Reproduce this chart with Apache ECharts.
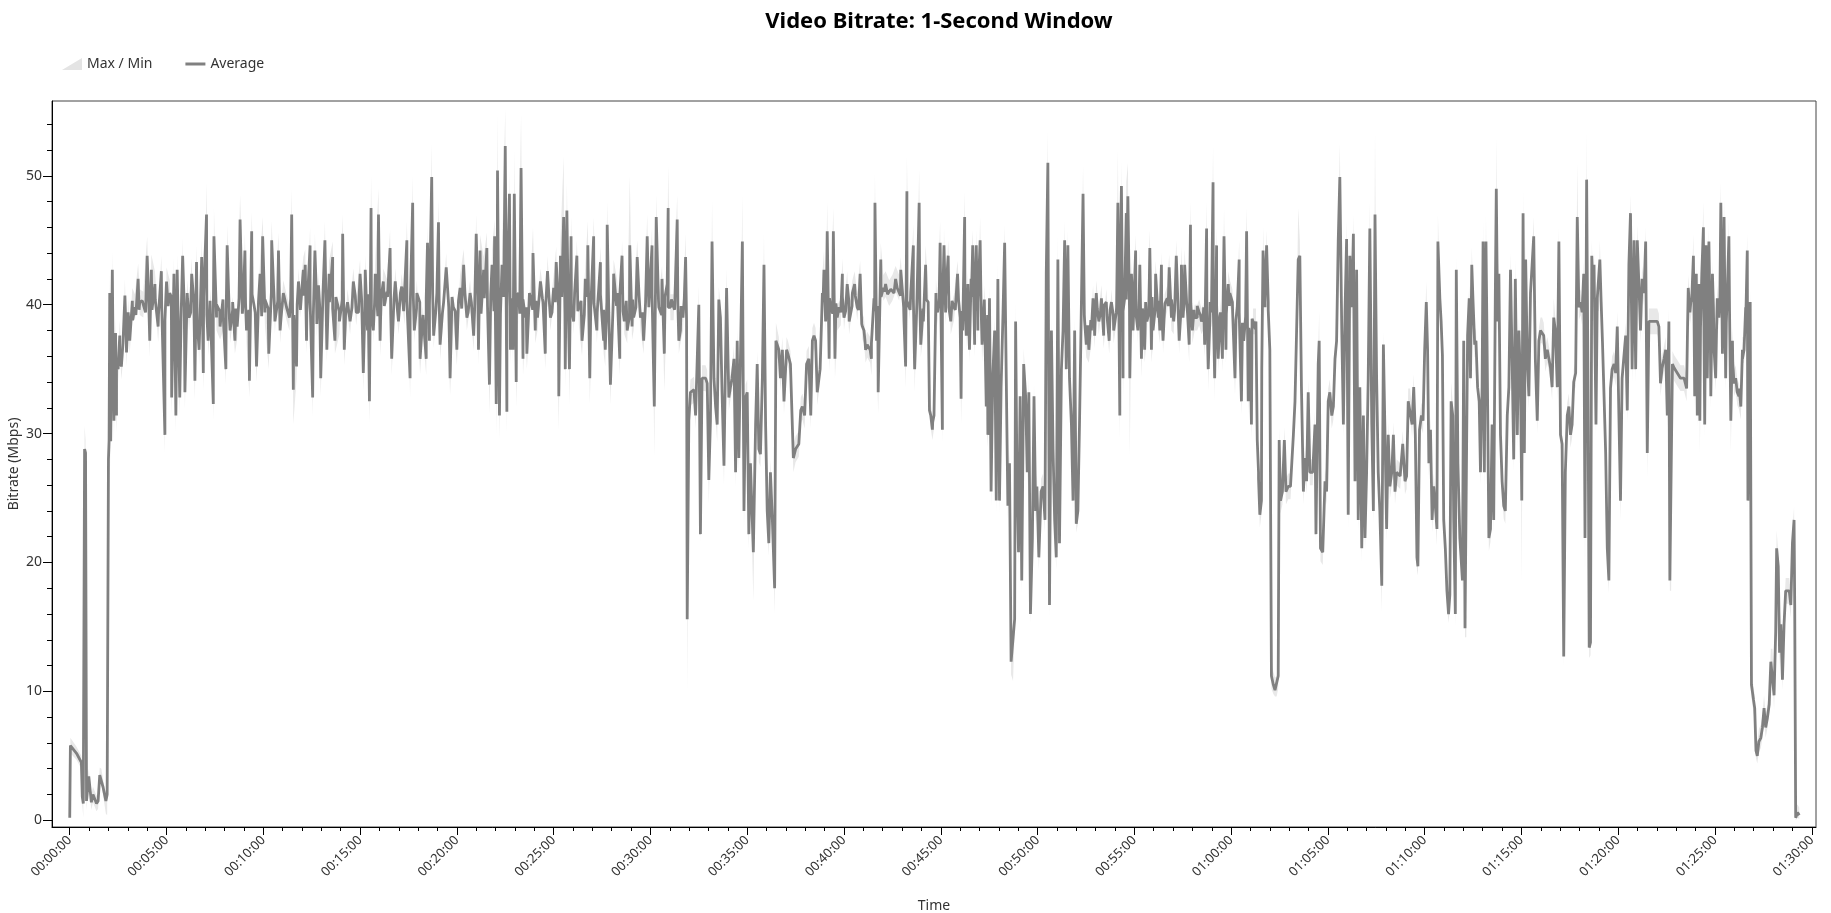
<!DOCTYPE html>
<html><head><meta charset="utf-8">
<script src="https://cdn.jsdelivr.net/npm/echarts@6/dist/echarts.min.js"></script>
<style>html,body{margin:0;padding:0;background:#fff}#c{width:1831px;height:913px}</style>
</head><body><div id="c"></div>
<script>
// time in seconds since start
const tSec = [
0,2,21,36,39,42,46,49,52,59,
67,72,83,88,93,98,103,112,116,120,
122,124,127,132,137,142,145,150,155,160,
166,171,176,181,186,194,202,212,217,228,
240,248,253,264,274,284,295,300,310,316,
323,329,333,341,350,357,364,370,378,388,
393,401,409,414,424,429,437,445,447,455,
466,476,484,488,497,505,512,519,528,538,
543,548,557,564,571,579,590,598,605,617,
626,636,647,652,662,672,681,688,693,703,
709,714,724,730,734,745,753,760,766,771,
778,791,797,804,815,822,836,846,851,861,
869,879,888,900,910,916,923,929,934,941,
947,957,962,972,983,993,998,1009,1019,1029,
1038,1045,1055,1063,1068,1076,1086,1094,1105,1109,
1115,1122,1128,1138,1143,1148,1159,1167,1179,1189,
1200,1210,1221,1231,1241,1252,1260,1267,1272,1283,
1293,1301,1309,1317,1322,1326,1332,1340,1350,1355,
1363,1366,1371,1374,1378,1384,1391,1399,1405,1412,
1417,1428,1436,1443,1450,1459,1467,1474,1481,1490,
1500,1508,1516,1521,1531,1536,1541,1549,1554,1562,
1572,1578,1588,1598,1606,1612,1619,1624,1634,1645,
1655,1660,1666,1671,1676,1686,1697,1705,1712,1719,
1728,1736,1743,1748,1759,1769,1779,1790,1795,1805,
1812,1818,1826,1836,1843,1852,1855,1862,1872,1883,
1888,1893,1901,1909,1912,1914,1919,1924,1935,1940,
1950,1955,1960,1971,1976,1981,1986,1991,1997,2002,
2007,2012,2017,2022,2028,2036,2043,2048,2053,2059,
2064,2069,2074,2079,2085,2090,2095,2100,2105,2110,
2119,2126,2131,2136,2141,2147,2152,2157,2162,2167,
2172,2178,2185,2189,2198,2203,2209,2214,2222,2226,
2234,2243,2250,2260,2266,2271,2278,2284,2291,2297,
2302,2307,2312,2317,2326,2333,2338,2343,2348,2354,
2359,2367,2372,2379,2390,2395,2400,2410,2416,2426,
2433,2441,2450,2457,2462,2467,2472,2481,2485,2493,
2496,2501,2506,2514,2522,2529,2540,2550,2560,2571,
2576,2586,2591,2595,2602,2607,2615,2619,2626,2633,
2638,2646,2653,2661,2669,2674,2679,2685,2690,2698,
2705,2710,2715,2723,2731,2741,2752,2760,2763,2768,
2774,2779,2784,2789,2794,2799,2805,2810,2815,2822,
2828,2836,2841,2846,2851,2856,2861,2867,2872,2877,
2882,2887,2893,2898,2903,2908,2913,2918,2924,2929,
2932,2936,2941,2946,2951,2957,2963,2968,2973,2978,
2984,2989,2994,2998,3004,3011,3017,3023,3027,3032,
3037,3043,3048,3053,3058,3063,3068,3074,3079,3084,
3089,3094,3099,3105,3110,3115,3120,3125,3130,3134,
3141,3146,3151,3159,3167,3172,3177,3182,3190,3198,
3205,3213,3222,3229,3236,3244,3249,3255,3260,3265,
3270,3275,3280,3286,3291,3296,3304,3311,3317,3322,
3327,3332,3339,3348,3353,3358,3366,3374,3379,3384,
3389,3394,3402,3408,3415,3422,3430,3439,3446,3451,
3456,3462,3470,3474,3480,3487,3495,3501,3508,3513,
3518,3524,3529,3534,3539,3544,3549,3555,3560,3567,
3573,3578,3584,3591,3596,3604,3612,3619,3625,3632,
3639,3648,3653,3658,3663,3668,3677,3681,3685,3689,
3694,3699,3705,3710,3715,3720,3725,3731,3736,3741,
3746,3749,3753,3759,3765,3770,3777,3784,3793,3798,
3803,3808,3813,3818,3824,3829,3834,3839,3844,3853,
3860,3863,3870,3873,3877,3884,3891,3896,3901,3906,
3912,3917,3922,3927,3932,3937,3943,3948,3953,3958,
3963,3968,3974,3979,3984,3989,3994,3999,4005,4010,
4015,4020,4025,4030,4036,4041,4046,4051,4056,4061,
4067,4072,4077,4082,4087,4092,4098,4103,4108,4113,
4124,4132,4139,4144,4149,4155,4161,4166,4171,4176,
4179,4184,4190,4195,4200,4205,4209,4213,4218,4223,
4228,4233,4238,4241,4247,4251,4255,4259,4264,4269,
4274,4278,4282,4287,4290,4295,4298,4303,4309,4313,
4317,4321,4325,4329,4333,4338,4342,4346,4350,4355,
4359,4364,4369,4373,4378,4381,4385,4390,4393,4399,
4404,4409,4414,4419,4422,4426,4430,4435,4440,4445,
4450,4456,4461,4466,4471,4476,4481,4487,4492,4497,
4501,4505,4509,4513,4518,4523,4528,4533,4538,4543,
4549,4554,4559,4564,4569,4574,4580,4585,4590,4595,
4600,4605,4611,4616,4621,4626,4631,4636,4642,4647,
4652,4657,4662,4668,4673,4678,4683,4688,4693,4697,
4702,4706,4710,4714,4718,4722,4725,4731,4735,4740,
4743,4747,4751,4756,4761,4766,4771,4776,4781,4787,
4792,4797,4802,4807,4812,4818,4823,4828,4833,4838,
4843,4849,4854,4859,4864,4869,4874,4880,4885,4890,
4895,4900,4911,4921,4926,4931,4936,4942,4947,4952,
4957,4960,4964,4968,4973,4983,4993,5004,5012,5017,
5022,5028,5033,5037,5042,5045,5050,5053,5059,5064,
5068,5072,5076,5081,5087,5092,5097,5102,5107,5112,
5118,5123,5128,5133,5138,5143,5149,5154,5159,5164,
5169,5174,5180,5185,5190,5195,5200,5202,5209,5213,
5219,5223,5227,5231,5236,5242,5247,5252,5257,5262,
5268,5273,5278,5283,5288,5291,5296,5300,5304,5309,
5314,5319,5324,5330,5335,5340,5345,5347,5350,5356,5361
];
// average bitrate (Mbps) at tSec
const avgMbps = [
0.2,5.8,5.2,4.5,1.8,1.3,28.8,28.5,1.5,3.4,
1.4,2.0,1.3,1.5,3.5,3.4,2.6,1.5,2.0,28.0,
29.5,40.9,29.4,42.7,31,37.8,31.4,35,37.6,35.2,
36.9,40.7,36.3,39.4,37.2,40.3,39.8,42,40.2,40,
43.8,37.2,42.7,41.6,38.3,42.6,29.9,41.8,40.9,32.8,
42.4,31.4,42.7,32.8,43.8,33.2,40.9,39,42.4,34.1,
43.3,36.5,43.7,34.7,47,37.2,40.2,32.3,45.3,39,
38.3,39,35,44.6,38,39.6,37.2,38.3,46.6,40.2,
44.2,38,34.1,45.7,40,35.2,42.4,45.3,39.4,36.2,
45,38.7,44.2,38,40.9,39.8,39,47,33.4,35.2,
41.8,40,42.7,43.1,37.2,44.6,32.8,44.2,38.5,41.5,
34.3,45,36.5,42.4,43.7,37.2,38.7,45.5,36.5,40.2,
38.7,41.8,39.4,42.4,34.7,42.7,38,32.5,47.5,38,
42.4,47,37.2,41.8,41,44.4,35.8,41.8,38.7,41.4,
39.4,45,34.3,47.9,38,40.9,35.8,38.9,35.8,44.8,
37.2,49.9,37.6,40.9,46.4,36.9,40.2,42.9,34.3,39.8,
36.5,41.3,43.1,39,40.9,37.6,45.5,36.5,44.2,42.7,
44.4,33.8,43.1,45.3,32.3,50.4,31.4,43.1,52.3,31.7,
48.6,36.5,40.5,36.5,48.6,34,40.9,50.6,35.8,39,
36.2,40.9,44,38,39,41.8,40.2,36.2,42.6,39,
41.3,43.3,32.9,43.8,46.8,35,47.3,35,45.3,38.7,
43.8,39.4,37.2,42,44.6,34.3,39.8,45.3,38,43.3,
37.2,36.5,46.2,39.4,33.8,42.4,40.9,35.8,43.8,38.7,
38,44.6,38.3,39,43.7,39,37.2,45.3,39.8,44.6,
32.1,46.8,39.8,42,36.2,41.6,47.5,39.8,39.8,46.6,
37.2,38,39,43.7,38.7,15.6,31,33.2,33.4,31.4,
40,22.2,34.3,34.3,33.9,26.4,31,44.9,34.3,32.1,
30.7,40.4,39,33.2,27.5,41.3,32.8,33.6,34.3,35.8,
27,37.2,28.1,35.8,44.9,24,32.8,33.2,22.2,27.7,
20.8,30.7,35.4,28.8,28.4,34.3,43.1,30.7,24,21.5,
27,23.3,18,37.2,36.5,34.3,36.5,32.5,36.5,36.2,
35.4,28.1,28.8,29.2,31.8,32.1,31.4,35.4,35.8,31.4,
37.2,37.6,37.2,33.2,35,40.9,42.7,38.7,45.7,35.8,
39.8,45.7,35.8,39,39.4,42.4,39,41.6,38.7,40.9,
41.6,39.8,42.4,38.3,38,36.5,36.9,36.5,35.8,40.5,
47.9,37.2,33.2,43.5,41.3,41.6,40.9,41.3,42,41.3,
42.7,38.7,35.2,48.8,39.8,40.9,44.6,35,40.2,47.9,
36.9,38.7,43.1,40.2,31.4,30.3,31.4,40.9,39.4,44.8,
30.3,44.6,39.4,43.8,38.7,39.8,42.4,39,32.7,38,
46.8,37.6,41.6,36.5,42,44.6,36.9,44.6,38,45,
36.9,40.5,32.1,29.9,40.5,25.5,34.3,38,24.8,42,
24.8,33.6,39.4,44.8,34.3,24.4,27.7,12.3,12.3,15.6,
38.7,27,20.8,32.9,18.6,35.4,32.9,27,33.2,16,
21.9,32.9,24,25.9,20.4,25.5,25.9,23.3,42.4,51,
16.7,38,28.8,23.3,20.4,43.5,21.5,35,38,45,
35,44.6,34.3,30.7,24.8,38,23,24,30.7,36.9,
48.6,38.7,36.9,36.5,38,40.5,37.6,40.9,38.7,40.5,
37.6,40.2,37.2,40.2,38,39.4,47.9,31.4,49.2,34.3,
40.5,47.1,48.4,34.3,42.4,38,44.2,38,43.1,35.8,
39.4,36.5,38.7,44.4,36.5,38,42.4,39,38,43.1,
37.2,39.8,40.5,42.9,39,38.7,43.8,37.2,43.1,39,
43.1,40.2,36.9,46.2,38,39,39,39.4,38.7,39,
36.9,45.9,35,38.7,39.4,49.5,34.3,44.6,35.8,39.4,
35.8,45.3,36.5,41.6,40.9,40.2,34.3,39.8,43.5,32.5,
37.2,45.7,32.5,37.6,30.7,38.7,38.7,29.5,27,23.7,
24.8,44.2,39.8,44.6,40.2,36.5,11.2,10.5,10.1,10.1,
11.2,29.5,24.8,25.5,29.5,25.5,25.9,25.9,29.9,32.5,
38,43.5,43.8,33.6,25.5,28.1,26.3,33.2,27,27,
30.7,22.2,35.4,37.2,21.1,20.8,26.3,25.5,32.5,33.2,
31.4,32.1,35.8,37.2,44.9,49.9,38,30.7,39.4,45.1,
23.7,43.8,39.8,45.5,26.3,42.7,23.3,33.6,21.1,31.4,
21.9,27,34.3,45.9,30.7,24,47,34.3,27,24,
18.2,36.9,29.9,22.6,29.9,25.9,27,29.9,25.5,27,
26.7,29.2,26.3,26.7,32.5,32.5,30.7,33.6,29.9,20.4,
19.7,30.3,31.4,31,36.5,40.2,36.5,27.7,30.3,23.3,
25.9,24.4,22.6,44.9,40.5,38.7,36.1,23.3,21.1,17.8,
16,17.5,32.5,31.4,23.3,16,42.7,27.7,21.9,21.9,
18.6,37.2,14.9,14.9,37.6,40.5,34.3,43.1,40.2,36.9,
37.2,33.6,32.5,27,33.6,44.9,27,44.9,38,21.9,
22.6,30.7,23.3,40.9,49,38.7,42.4,29.9,26.3,24.4,
24,31.4,33.6,42.7,35.8,28,42,29.9,38,34,
24.8,47.1,28.5,43.5,35.8,32.9,40.9,43.1,45.3,35.8,
31,37.2,38,38,37.6,35.8,36.5,35.8,35.1,33.6,
39,38,33.6,44.9,29.9,29.2,12.7,27,31.4,32.1,
29.9,30.7,34,34.7,46.8,39.8,40.2,39.4,42.4,21.9,
49.7,35,13.4,13.8,43.8,40.9,43.1,30.7,40.5,40.5,
43.5,40.2,37.2,32.9,28.5,21.1,18.6,33.5,35,35.4,
34.7,38.3,31.4,24.8,34.3,36.1,37.6,31.8,43.1,47.1,
35,45,35,45,41.6,38,42,40.9,44.9,28.5,
38.7,38.7,38.7,38.7,38.3,33.9,35.1,35.8,36.5,31.4,
38.7,18.6,18.6,35.4,35.1,34.7,34.3,34.3,33.5,41.3,
39.4,40.5,43.8,32.9,42.4,31.4,41.6,31,42.4,46,
30.7,44.6,34.3,44.9,32.9,42.4,36.5,34.3,40.5,39,
47.9,36.2,46.8,34.3,40.9,45.3,31,37.2,33.9,34.3,
33.2,32.9,32.1,36.5,36.5,39.8,44.2,24.8,40.2,10.5,
9.4,8.7,5.4,5,6.1,6.4,7.2,8.7,7.2,7.9,
9,12.3,12.3,9.7,14.6,21.1,19.7,13,15.2,10.9,
15.2,17.8,17.8,17.8,16.7,21.5,23.3,16.7,0.2,0.6,0.4
];
// window maximum (Mbps) at tSec
const maxMbps = [
0.6,6.4,5.7,5.0,2.5,2.0,30.6,29.5,2.2,4.0,
2.0,2.6,1.9,2.1,4.1,4.0,3.2,2.1,2.6,29,
30.5,42.5,30.5,44.2,32,39,32.5,36,38.8,36.2,
37.9,42,37.3,40.4,38.2,41.3,40.8,43.2,41.2,41,
45.3,38.2,43.9,42.6,39.3,43.8,31,42.9,41.9,33.8,
43.6,32.4,43.9,33.8,45.2,34.2,41.9,40,43.6,35.1,
44.6,37.5,45,35.7,49.5,38.2,41.2,33.3,47.5,40,
39.3,40,36,46.2,39,40.6,38.2,39.3,48.5,41.2,
45.5,39,35.1,47.2,41,36.2,43.5,46.8,40.4,37.2,
46.5,39.7,45.6,39,41.9,40.8,40,49,34.4,36.2,
42.8,41,43.7,44.3,38.2,46,33.8,45.6,39.5,42.5,
35.3,46.5,37.5,43.4,44.9,38.2,39.7,47,37.5,41.2,
39.7,42.8,40.4,43.5,35.7,43.8,39,33.5,50,39,
43.4,49,38.2,42.8,42,45.8,36.8,42.8,39.7,42.4,
40.4,46.5,35.3,50,39,41.9,36.8,39.9,36.8,46.2,
38.2,52.5,38.6,41.9,48.2,37.9,41.2,44,35.3,40.8,
37.5,42.3,44.3,40,41.9,38.6,47,37.5,45.4,43.7,
45.6,34.8,44.3,46.6,33.3,54.8,32.4,44.1,55.2,32.7,
50.5,37.5,41.5,37.5,52,35,41.9,54.8,36.8,40,
37.2,41.9,46,39,40,42.8,41.2,37.2,43.8,40,
42.3,44.5,33.9,45,51.5,36,49.5,36,46.8,39.7,
45,40.4,38.2,43,46.5,35.3,40.8,46.8,39,44.5,
38.2,37.5,48,40.4,34.8,43.5,41.9,36.8,45,39.7,
39,50,39.3,40,45,40,38.2,47,40.8,46,
33.1,48.5,40.8,43,37.2,42.6,50.8,40.8,40.8,48.5,
38.2,39,40,45.5,39.7,16.6,32,34.2,34.4,32.4,
41.5,23.2,35.3,35.3,34.9,27.4,32,48.1,35.3,33.1,
31.7,41.4,40,34.2,28.5,42.8,33.8,34.6,35.3,36.8,
28,38.2,29.1,36.8,48.5,25,33.8,34.2,23.2,28.7,
21.8,31.7,36.4,29.8,29.4,35.3,45.5,31.7,25,22.5,
28,24.3,19,38.6,37.5,35.3,37.5,33.5,37.5,37.2,
36.4,29.1,29.8,30.2,32.8,33.1,32.4,36.4,36.8,32.4,
38.2,38.6,38.2,34.2,36,42.4,44.2,39.7,48,36.8,
40.8,47.5,36.8,40,40.4,43.6,40,42.6,39.7,41.9,
42.6,40.8,43.4,39.3,39,37.5,37.9,37.5,36.8,41.5,
50.2,38.2,34.2,44.8,42.3,42.6,41.9,42.3,43,42.3,
43.7,39.7,36.2,51.5,40.8,41.9,46.2,36,41.2,50.5,
37.9,39.7,44.6,41.2,32.4,31.3,32.4,42,40.4,46.5,
31.3,46,40.4,45,39.7,40.8,43.4,40,33.7,39,
48.8,38.6,42.6,37.5,43,45.8,37.9,45.8,39,46.8,
37.9,41.5,33.1,30.9,41.5,26.5,35.3,39,25.8,43.2,
25.8,34.6,40.4,46.2,35.3,25.4,28.7,13.3,13.3,16.6,
40.2,28,21.8,33.9,19.6,36.6,33.9,28,34.4,17,
22.9,33.9,25,26.9,21.4,26.5,26.9,24.3,43.4,53.5,
17.7,39,29.8,24.3,21.4,45.5,22.5,36,39,46.5,
36,45.8,35.3,31.7,25.8,39,24,25,31.7,37.9,
50.8,39.7,37.9,37.5,39,41.5,38.6,41.9,39.7,41.5,
38.6,41.2,38.2,41.2,39,40.4,52,32.4,51.2,35.3,
41.5,49.5,51,35.3,43.4,39,45.4,39,44.3,36.8,
40.4,37.5,39.7,45.8,37.5,39,43.4,40,39,44.1,
38.2,40.8,41.5,43.9,40,39.7,45,38.2,44.5,40,
44.3,41.2,37.9,48,39,40,40,40.4,39.7,40,
37.9,48,36,39.7,40.4,52.3,35.3,46,36.8,40.4,
36.8,47.5,37.5,42.6,41.9,41.2,35.3,40.8,45,33.5,
38.2,47.5,33.5,38.6,31.7,39.7,39.7,30.5,28,24.7,
25.8,46,40.8,45.8,41.2,37.5,12.2,11.5,11.1,11.1,
12.2,30.5,25.8,26.5,30.5,26.5,26.9,26.9,30.9,33.5,
39,47.5,45,34.6,26.5,29.1,27.3,34.2,28,28,
31.7,23.2,36.4,39.5,22.1,21.8,27.3,26.5,33.5,34.2,
32.4,33.1,36.8,38.2,46,52.5,39,31.7,40.4,46.5,
24.7,45,40.8,47,27.3,43.7,24.3,34.6,22.1,32.4,
22.9,28,35.3,48,31.7,25,53.5,35.3,28,25,
19.2,37.9,30.9,23.6,30.9,26.9,28,30.9,26.5,28,
27.7,30.2,27.3,27.7,33.5,33.5,31.7,34.6,30.9,21.4,
20.7,31.3,32.4,32,37.5,41.8,37.5,28.7,31.3,24.3,
26.9,25.4,23.6,47,41.5,39.7,37.1,24.3,22.1,18.8,
17,18.5,34,32.4,24.3,17,43.9,28.7,22.9,22.9,
19.6,38.2,15.9,15.9,38.6,41.5,35.3,44.5,41.2,37.9,
38.2,34.6,33.5,28,34.6,46.6,28,47,39,22.9,
23.6,31.7,24.3,42,53,39.7,43.4,30.9,27.3,25.4,
25,32.4,34.6,44,36.8,29,43.5,30.9,39,35,
25.8,49,29.5,45,36.8,33.9,41.9,44.1,46.8,36.8,
32,38.2,39,39,38.6,36.8,37.5,36.8,36.1,34.6,
40.5,39,34.6,46,30.9,30.2,13.7,28,32.4,33.1,
30.9,31.7,35,35.7,51,40.8,41.2,40.4,43.4,22.9,
53.5,36,14.4,14.8,45,41.9,44.1,31.7,41.5,41.5,
45,41.2,38.2,33.9,29.5,22.1,19.6,34.5,36,36.4,
35.7,39.5,32.4,25.8,35.3,37.1,38.6,32.8,44.1,48.5,
36,46,36,46.2,42.6,39,43,41.9,46,29.5,
39.7,39.7,39.7,39.7,39.3,34.9,36.1,36.8,37.5,32.4,
39.7,19.6,19.6,36.4,36.1,35.7,35.3,35.3,34.5,42.3,
40.4,41.5,45.5,33.9,43.4,32.4,42.6,32,43.4,48,
31.7,45.6,35.3,46,33.9,43.4,37.5,35.3,41.5,40,
49.5,37.2,48.2,35.3,41.9,46.5,32,38.2,34.9,35.3,
34.2,33.9,33.1,37.5,37.5,40.8,45.5,25.8,41.2,11.5,
10.4,9.7,6.4,6,7.1,7.4,8.2,9.7,8.2,8.9,
10,13.3,13.3,10.7,15.6,22.5,20.7,14,16.2,11.9,
16.2,18.8,18.8,18.8,17.7,22.5,24.3,17.7,1.2,1.2,1.0
];
// window minimum (Mbps) at tSec
const minMbps = [
0,5.2,4.7,4.0,1.2,0.2,27.5,27,0.8,2.8,
0.8,1.4,0.7,0.9,2.9,2.8,2.0,0.5,0.4,26,
28,39.5,27.3,41.5,29.5,36.8,30,34,36.6,34.2,
35.9,39.7,35.2,38.4,36.2,39.3,38.8,41,39.2,39,
42.8,35.9,41.7,40.6,37.1,41.6,28.5,40.8,39.9,31.5,
41.4,30,41.7,31.5,42.8,31.9,39.9,38,41.4,32.6,
42.3,35.3,42.7,33.3,46,36,39.2,31,44.3,38,
37.3,38,33.8,43.6,37,38.6,36.2,37.3,45.6,39.2,
43.2,37,32.8,44.7,39,34,41.4,44.3,38.4,35,
44,37.7,43.2,37,39.9,38.8,38,46,30.7,34.2,
40.8,39,41.7,42.1,36.2,43.6,31.3,43.2,37.5,40.5,
32.9,44,35.5,41.4,42.7,36.2,37.7,44.5,35.3,39.2,
37.7,40.8,38.4,41.4,33.3,41.7,37,30.8,46.5,37,
41.4,46,36,40.8,40,43.4,34.5,40.8,37.7,40.4,
38.4,44,32.8,46.9,37,39.9,34.6,37.9,34.5,43.8,
36.2,48.9,36.6,39.9,45.4,35.7,39.2,41.9,33,38.8,
35.3,40.3,42.1,38,39.9,36.4,44.5,35.3,43.2,41.7,
43.4,31.5,42.1,44.3,29.8,49.4,29.5,42.1,51.3,30,
47.6,35.3,39.5,35.3,47.6,32,39.9,49.6,34.5,38,
35,39.9,43,37,38,40.8,39.2,35,41.6,38,
40.3,42.3,30.2,42.8,45.8,33.5,46.3,32.2,44.3,37.7,
42.8,38.4,36,41,43.6,32.3,38.8,44.3,37,42.3,
36.2,35.2,45.2,38.4,32.2,41.4,39.9,34.5,42.8,37.7,
37,43.6,37.3,38,42.7,38,36.2,44.3,38.8,43.6,
28.2,45.8,38.8,41,33.3,40.6,46.5,38.8,38.8,45.6,
36.2,37,38,42.7,37.7,9.8,30,32.2,32.4,30.4,
39,21.5,33.3,33.3,32.9,24.5,30,43.9,33.3,31.1,
29.3,39.4,38,32.2,26,40.3,31.8,32.6,33.3,34.8,
25.8,36.2,27,34.8,43.9,22.5,31.8,32.2,21,26.7,
17,29.7,34.4,27.8,27.4,33.3,42.1,29.7,23,20.5,
26,22.3,16,36.2,35.5,33.3,35.5,31.5,35.5,35.2,
34.4,27,27.8,28.2,30.8,31.1,30.4,34.4,34.8,30.4,
36.2,36.6,36.2,32.2,34,39.9,41.7,37.7,44.7,34.8,
38.8,44.7,34.3,38,38.4,41.4,38,40.6,37.7,39.9,
40.6,38.8,41.4,37.3,37,35.5,35.9,35.5,34.5,39.5,
46.9,36.2,31.5,42.5,40.3,40.6,39.9,40.3,41,40.3,
41.7,37.7,33.5,47.8,38.8,39.9,43.6,33.2,39.2,46.9,
35.9,37.7,42.1,39.2,30.4,29.5,30.4,39.9,38.4,43.8,
29.3,43.6,38.4,42.8,37.7,38.8,41.4,38,30.7,37,
45.8,36.6,40.6,35.5,41,43.6,35.9,43.6,37,44,
35.5,39.5,31.1,28.9,39.5,24.3,33.3,37,23.8,41,
23.8,32.6,38.4,43.8,33.3,23.4,26.7,11.3,10.8,14.6,
37.7,26,19.8,31.9,17.6,34.4,31.9,26,32.2,15.3,
20.9,31.9,23,24.9,19.4,24.5,24.9,22.3,41.4,50,
15.7,37,27.8,22.3,19.4,42.5,20.5,34,37,44,
34,43.6,33.3,29.7,23.8,37,22.3,23,29.7,35.9,
47.6,37.7,35.9,35.5,37,39.5,36.6,39.9,37.7,39.5,
36.6,39.2,36.2,39.2,37,38.4,46.9,29.5,48.2,32.8,
39.5,46.1,47.4,28.2,41.4,37,43.2,37,42.1,34.3,
38.4,35.5,37.7,43.4,35.5,37,41.4,38,37,42.1,
36.2,38.8,39.5,41.9,38,37.7,42.8,36.2,42.1,38,
42.1,39.2,35.5,45.2,37,38,38,38.4,37.7,38,
35.9,44.9,33.3,37.7,38.4,48.5,32.5,43.6,34.8,38.4,
34.8,44.3,35.5,40.6,39.9,39.2,33,38.8,42.5,31.5,
36.2,44.7,31.5,36.6,29.5,37.7,37.7,28.5,26,22.7,
23.8,43.2,38.8,43.6,39.2,35.5,10.2,9.8,9.6,9.6,
10.2,28.5,23.8,24.5,28.5,24.5,24.9,24.9,28.9,31.5,
37,42.5,42.8,32.6,24.5,27.1,25.3,32.2,26,26,
29.7,21.2,34.4,36.2,20.1,19.8,25.3,24.5,31.5,32.2,
30.4,31.1,34.8,36.2,43.9,48.9,37,29.7,38.4,44.1,
22.5,42.8,38.8,44.5,25.3,41.7,22.3,32.6,20,30.4,
20.9,26,33.3,44.9,29.7,23,46,33.3,26,23,
16.1,35.9,28.9,21.6,28.9,24.9,26,28.9,24.5,26,
25.7,28.2,25.3,25.7,31.5,31.5,29.7,32.6,28.9,19.4,
19,29.3,30.4,30,35.5,39.2,35.5,26.7,29.3,22.3,
24.9,23.4,21.3,43.9,39.5,37.7,35.1,22.3,20.1,16.8,
15.3,16.5,31.5,30.4,22.3,15,41.7,26.7,20.9,20.9,
17.6,36.2,14.2,14.2,36.6,39.5,33.3,42.1,39.2,35.9,
36.2,32.6,31.5,26,32.6,43.9,25.5,43.9,37,20.9,
21.6,29.7,22.3,39.9,48,37.7,41.4,28.9,25.3,23.4,
23,30.4,32.6,41.7,34.8,27,41,28.9,37,33,
18.5,46.1,27.5,42.5,34.8,31.9,39.9,42.1,44.3,34.8,
30,36.2,37,37,36.6,34.8,35.5,34.8,34.1,32.6,
38,37,32.6,43.9,28.9,28.2,11.8,26,30.4,31.1,
28.9,29.7,33,33.7,45.8,38.8,39.2,38.4,41.4,19,
48.7,34,12.6,12.8,42.8,39.9,42.1,29.7,39.5,39.5,
42.5,39.2,36.2,31.9,27.5,20.1,17.6,32.5,34,34.4,
33.7,37.3,30.4,23.2,33.3,35.1,36.6,30.8,42.1,46.1,
34,44,34,44,40.6,37,41,39.9,43.9,26.5,
37.7,37.7,37.7,37.7,37.3,32.9,34.1,34.8,35.5,30.4,
37.7,17.8,17.8,34.4,34.1,33.7,33.3,33.3,32.5,40.3,
38.4,39.5,42.8,31.9,41.4,30.4,40.6,28.5,41.4,45,
29.7,43.6,33.3,43.9,31.9,41.4,35.5,33.3,39.5,38,
46.9,35.2,45.8,33.3,39.9,44.3,28.5,36.2,32.9,33.3,
32.2,31.9,31.1,35.5,35.5,38.8,43.2,23.8,39.2,9.5,
8.4,7.7,4.8,4.4,5.3,5.6,6.4,7.9,6.4,7.1,
8.2,11.5,11.5,8.5,13.8,20.1,18.7,12,14.2,10.1,
14.2,16.8,16.8,16.8,15.7,20.5,22.3,15.7,0,0.2,0.1
];
// extra average samples in the dense steady stretches, 10 s apart, starting at coreStartSec
const coreStartSec = [135, 1365, 2335, 3145, 5015];
const coreA = [
34.5,35.5,36,37,37.5,38.2,38.8,39.2,39.6,40.3,39.4,40.1,39.6,40.4,39.2,40,38.8,39.9,40.6,39.3,
40.2,38.9,39.8,40.5,39.4,40.1,38.7,39.9,40.6,39.2,
40.3,39.1,40,39.5,40.4,39.6,38.9,40.2,39.7,40.5,
39.3,40.1,39.6,40.8,39.4,40.2,39.1,40.4,39.7,40.9,
39.5,40.3,39,40.6,39.8,40.5,39.2,40,39.6,40.7,
39.4,40.3,39.1,40.5,39.8,40.9,39.3,40.2,39.7,40.6,
39.5,40.4,39.2,40.1,39.8,40.7,39.4,40.3,39.9,40.8,
39.6,40.2,39.1,40.5,39.9,40.6,39.3,40.4,39.8,40.9,
39.5,40.3,39.4,40.6,39.7,40.2,39.2,40.5,39.9,40.8,
39.6,40.4,39.3,40.1,39.8,40.6,39.5,40.3,39.7,40.9,
39.4,40.2,39.6,40.7,39.3,40.5,39.9,40.8,39.5,40.4,
39.2,40.6,39.8
];
const coreB = [
40.2,39.5,40.7,39.3,40.4,39.8,40.9,39.6,40.3,39.1,
40.5,39.7,40.8,39.4,40.2,39.9,40.6,39.3,40.4,39.8,
40.9,39.5,40.3,39.2,40.6,39.7,40.1,39.4,40.8,39.6,
40.2,39.3,40.5,39.9,40.7,39.5,40.3,39.1,40.4,39.8,
40.6,39.4,40.2,39.7,40.9,39.5,40.3,39.2,40.6,39.8,
40.4,39.6,40.1,39.9,40.5
];
const coreC = [
40.2,39.6,40.5,39.3,40.1,39.8,40.6,39.5,40.3,39.9,
40.7,39.6,38.5,37.2,36.8,37,39.5,39.9,40.6,41,
40.8,41.2,40.9,41.3,40.7,39.8,40.3,39.6,40.5,39.4,
40.2,39.7,40.4,31.8,30.9,39.8,40.5,39.4,40.6,39.8,
40.3,39.6,40.4,39.5,40.3,39.7,40.6,39.4,40.2,39.8,
40.4,39.2
];
const coreD = [
39.2,38.4,38.8,39.3,39.7,39.4,39.9,39.2,39.6,39.1,
39.8,40.2,39.5,40.4,39.6,40.1,39.3,40.5,39.7,40.2,
39.4,40.6,39.8,40.3,39.5,40.1,39.9,40.4,39.6,40.2,
39.7,40.5,39.3,40.1,39.6,39.9,39.2,39.8,39.5,40.2,
39.4,40,39.1,39.8,39.3,39.9,39.2,38.8,39.4,38.6,
39.1,38.2,38.9,38.1,26.5,35,40.2,39.6
];
const coreE = [
38.5,40.2,38.9,39.6,38.2,40.1,39.3,38.7,39.8,38.4,
40.3,39.1,38.6,39.5,35.5,34.2,33.5,35.8,38.4
];
// axis ticks
const xMajorTicks = [0,300,600,900,1200,1500,1800,2100,2400,2700,3000,3300,3600,3900,4200,4500,4800,5100,5400];
const yMajorTicks = [0,10,20,30,40,50];

const xMinorTicks = []; for (let s = 0; s <= 5400; s += 60) xMinorTicks.push(s);
const yMinorTicks = []; for (let v = 0; v <= 54; v += 2) yMinorTicks.push(v);

const FONT = 'Noto Sans';
const pad = k => (k < 10 ? '0' : '') + k;
const fmtTime = s => pad(Math.floor(s / 3600)) + ':' + pad(Math.floor((s % 3600) / 60)) + ':' + pad(Math.round(s % 60));

const n = Math.min(tSec.length, avgMbps.length, maxMbps.length, minMbps.length);
const avgData = [];
for (let i = 0; i < n; i++) avgData.push([tSec[i], avgMbps[i]]);
[coreA, coreB, coreC, coreD, coreE].forEach((arr, k) => {
  arr.forEach((v, j) => avgData.push([coreStartSec[k] + j * 10, v]));
});
avgData.sort((a, b) => a[0] - b[0]);

const chart = echarts.init(document.getElementById('c'), null, {renderer: 'canvas'});
const X_MIN = -55, X_MAX = 5413, Y_MIN = -0.52, Y_MAX = 55.8;

chart.setOption({
  animation: false,
  backgroundColor: '#fff',
  title: {
    text: 'Video Bitrate: 1-Second Window',
    left: 934, top: 6, textAlign: 'center',
    textStyle: {fontFamily: FONT, fontSize: 22, fontWeight: 'bold', color: '#000'}
  },
  legend: {
    left: 57, top: 52, itemWidth: 20, itemHeight: 12, itemGap: 33,
    symbolKeepAspect: true,
    textStyle: {fontFamily: FONT, fontSize: 14, color: '#333'},
    itemStyle: {borderWidth: 0},
    data: [
      {name: 'Max / Min', icon: 'path://M0,12L20,0L20,12Z', itemStyle: {color: '#e4e4e4', borderWidth: 0}},
      {name: 'Average', icon: 'path://M0,0H20V3H0Z', itemStyle: {color: '#808080', borderWidth: 0}}
    ]
  },
  grid: {
    left: 52, right: 15, top: 101, bottom: 86,
    show: true, borderColor: '#444', borderWidth: 1,
    containLabel: false, outerBoundsMode: 'none'
  },
  xAxis: [
    {
      type: 'value', min: X_MIN, max: X_MAX, position: 'bottom', z: 5,
      axisLine: {show: true, onZero: false, lineStyle: {color: '#000', width: 1}},
      axisTick: {show: true, length: 8, customValues: xMajorTicks, lineStyle: {color: '#000'}},
      axisLabel: {show: true, customValues: xMajorTicks, formatter: fmtTime, rotate: 45, margin: 11,
        fontFamily: FONT, fontSize: 13, color: '#333'},
      splitLine: {show: false},
      name: 'Time', nameLocation: 'middle', nameGap: 72, nameMoveOverlap: false,
      nameTextStyle: {fontFamily: FONT, fontSize: 14, color: '#333'}
    },
    {
      type: 'value', min: X_MIN, max: X_MAX, position: 'bottom', z: 5,
      axisLine: {show: false, onZero: false},
      axisTick: {show: true, length: 4, customValues: xMinorTicks, lineStyle: {color: '#000'}},
      axisLabel: {show: false}, splitLine: {show: false}
    }
  ],
  yAxis: [
    {
      type: 'value', min: Y_MIN, max: Y_MAX, position: 'left', z: 5,
      axisLine: {show: true, onZero: false, lineStyle: {color: '#000', width: 1}},
      axisTick: {show: true, length: 9, customValues: yMajorTicks, lineStyle: {color: '#000'}},
      axisLabel: {show: true, customValues: yMajorTicks, margin: 10,
        fontFamily: FONT, fontSize: 14, color: '#333'},
      splitLine: {show: false},
      name: 'Bitrate (Mbps)', nameLocation: 'middle', nameGap: 31, nameMoveOverlap: false,
      nameTextStyle: {fontFamily: FONT, fontSize: 14, color: '#333'}
    },
    {
      type: 'value', min: Y_MIN, max: Y_MAX, position: 'left', z: 5,
      axisLine: {show: false, onZero: false},
      axisTick: {show: true, length: 5, customValues: yMinorTicks, lineStyle: {color: '#000'}},
      axisLabel: {show: false}, splitLine: {show: false}
    }
  ],
  series: [
    {
      type: 'custom', name: 'Max / Min', coordinateSystem: 'cartesian2d',
      xAxisIndex: 0, yAxisIndex: 0, silent: true, clip: true, z: 1,
      itemStyle: {color: '#e4e4e4'},
      data: [[0, 0]],
      renderItem: function (params, api) {
        const pts = [];
        for (let i = 0; i < n; i++) pts.push(api.coord([tSec[i], maxMbps[i]]));
        for (let i = n - 1; i >= 0; i--) pts.push(api.coord([tSec[i], minMbps[i]]));
        return {type: 'polygon', shape: {points: pts}, style: {fill: '#e8e8e8', stroke: null}};
      }
    },
    {
      type: 'line', name: 'Average', xAxisIndex: 0, yAxisIndex: 0,
      data: avgData, showSymbol: false, symbol: 'none', silent: true, z: 3,
      lineStyle: {color: '#808080', width: 2.8},
      itemStyle: {color: '#808080'}
    }
  ]
});
</script>
</body></html>
